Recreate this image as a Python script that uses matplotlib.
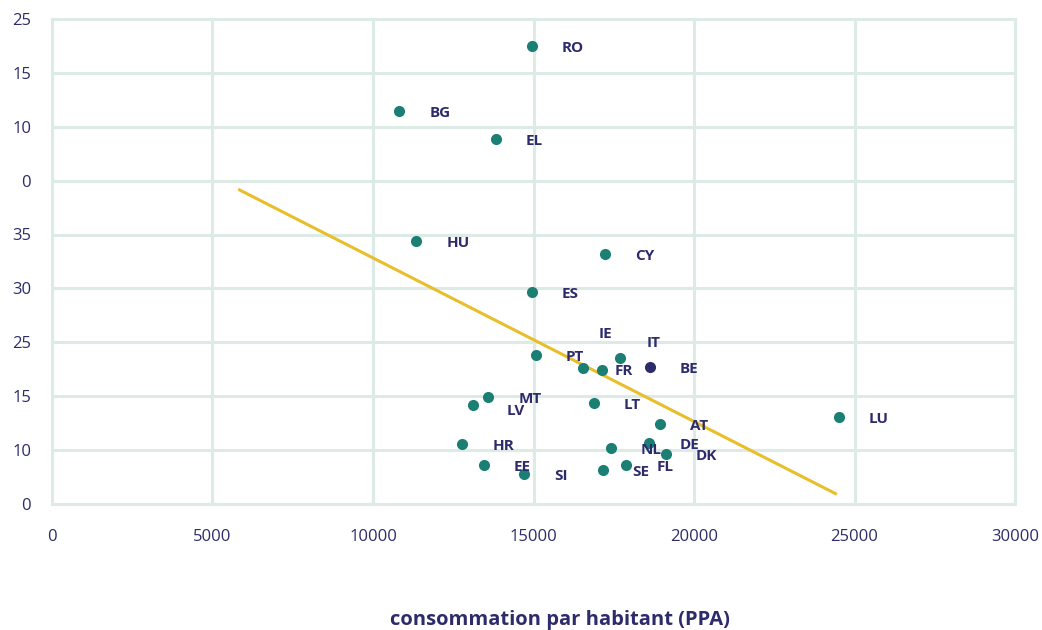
import matplotlib
matplotlib.use("Agg")
import matplotlib.pyplot as plt

# consommation par habitant (PPA) vs indicator, by country
countries = ["RO", "BG", "EL", "HU", "CY", "ES", "PT", "FR", "IE", "IT",
             "BE", "MT", "LV", "LT", "AT", "HR", "DE", "NL", "DK", "FL",
             "SE", "EE", "SI", "LU"]
conso = [14940, 10820, 13820, 11350, 17220, 14940, 15070, 16540, 17130, 17700,
         18630, 13590, 13100, 16880, 18950, 12780, 18610, 17410, 19130, 17890,
         17150, 13450, 14710, 24520]
indic = [42.5, 36.5, 33.9, 24.4, 23.2, 19.7, 13.8, 12.6, 12.4, 13.5,
         12.7, 9.9, 9.2, 9.4, 7.4, 5.6, 5.7, 5.2, 4.6, 3.6,
         3.2, 3.6, 2.8, 8.1]
highlight = "BE"

# trend line end points
trend_x = [5800, 24450]
trend_y = [29.2, 0.9]

x_ticks = [0, 5000, 10000, 15000, 20000, 25000, 30000]
y_ticks = [0, 5, 10, 15, 20, 25, 30, 35, 40, 45]
y_labels = ["0", "10", "15", "25", "30", "35", "0", "10", "15", "25"]

teal = "#1b7f73"
navy = "#2e2b6b"
gold = "#e8be2b"
grid = "#dcebe5"

# label offsets in pixels (default: to the right)
default_off = (30, -2)
label_off = {"IE": (-3, 36), "IT": (26, 15), "FR": (32, -3), "LV": (34, -6)}

plt.rcParams["font.family"] = ["Open Sans", "DejaVu Sans"]

fig = plt.figure(figsize=(10.42, 6.3), dpi=100)
ax = fig.add_axes([0.0499, 0.2, 0.9242, 0.77])

ax.plot(trend_x, trend_y, color=gold, lw=2.2, zorder=2, solid_capstyle="butt")

for c, x, y in zip(countries, conso, indic):
    col = navy if c == highlight else teal
    ax.scatter([x], [y], s=64, color=col, zorder=3, linewidths=0)
    dx, dy = label_off.get(c, default_off)
    ax.annotate(c, (x, y), xytext=(dx * 0.72, dy * 0.72),
                textcoords="offset points", ha="left", va="center",
                fontsize=11, fontweight="bold", color=navy, zorder=4)

ax.set_xlim(0, 30000)
ax.set_ylim(0, 45)
ax.set_xticks(x_ticks)
ax.set_xticklabels([str(t) for t in x_ticks])
ax.set_yticks(y_ticks)
ax.set_yticklabels(y_labels)
ax.grid(True, color=grid, lw=2.2)
ax.set_axisbelow(True)
for s in ax.spines.values():
    s.set_color(grid)
    s.set_linewidth(2.2)
ax.tick_params(axis="both", length=0, colors=navy, labelsize=12)
ax.tick_params(axis="x", pad=18)
ax.tick_params(axis="y", pad=15)

fig.text(0.537, 0.016, "consommation par habitant (PPA)", fontsize=14.5,
         fontweight="bold", color=navy, ha="center", va="center")

fig.savefig("out.png", dpi=100)
